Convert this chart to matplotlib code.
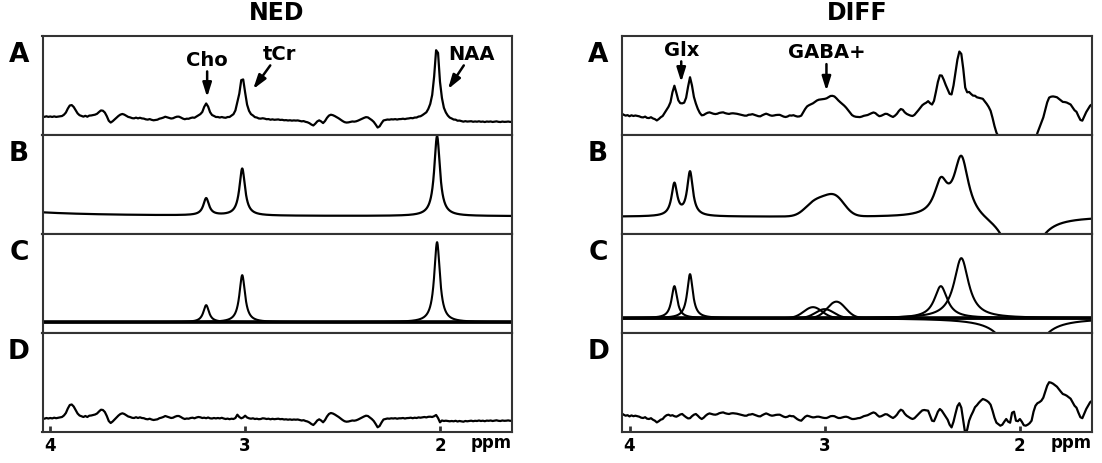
import numpy as np
import matplotlib
matplotlib.use("Agg")
import matplotlib.pyplot as plt

# measured spectra are sampled every 0.01 ppm from 4.04 down to 1.63
ppm = np.linspace(4.04, 1.63, 242)
ppm_fine = np.linspace(4.04, 1.63, 2400)

# NED fit: Cho, tCr, NAA  (centre ppm, height, fwhm ppm, lineshape)
ned_centres = [3.20, 3.015, 2.015]
ned_heights = [17, 47, 80]
ned_fwhm = [0.035, 0.035, 0.035]
ned_shapes = ["L", "L", "L"]
# water tail that lifts the NED fit baseline at the left edge
ned_water = (4.68, 30, 0.5, "L")

# DIFF fit: Glx x2, GABA+ x3, 2.4 / 2.3 ppm, negative NAA
diff_centres = [3.77, 3.69, 3.06, 3.00, 2.94, 2.405, 2.30, 1.99]
diff_heights = [32, 44, 11, 9, 16.5, 32, 60, -90]
diff_fwhm = [0.035, 0.035, 0.11, 0.11, 0.11, 0.08, 0.09, 0.12]
diff_shapes = ["L", "L", "G", "G", "G", "L", "L", "L"]

# residuals (data - fit), one row per 0.1 ppm
ned_resid = [
    0.7, 0.3, 1.0, 0.5, 1.0, 0.6, 1.3, 0.8, 1.2, 1.6,
    2.0, 3.5, 6.0, 10.5, 14.0, 14.5, 12.5, 9.0, 5.5, 3.5,
    2.8, 2.0, 3.0, 2.0, 3.3, 3.5, 4.0, 4.5, 5.5, 7.5,
    9.3, 9.0, 7.0, 3.0, -2.0, -4.0, -2.5, -0.5, 1.5, 3.5,
    5.0, 5.7, 5.0, 3.8, 2.5, 2.0, 1.2, 1.0, 1.8, 1.0,
    1.7, 1.0, 0.8, 0.0, -0.3, 0.3, -0.5, -1.0, -0.6, -0.3,
    0.8, 1.3, 2.0, 3.0, 2.3, 1.5, 1.0, 1.3, 2.3, 3.0,
    3.0, 2.0, 0.8, 0.0, 0.5, 0.3, 1.0, 1.3, 0.7, 1.5,
    2.0, 1.7, 1.0, 1.3, 0.8, 1.5, 0.7, 0.5, 1.0, 0.6,
    1.0, 0.6, 1.2, 0.5, 0.0, 0.4, -0.2, 0.3, 0.0, 1.0,
    4.3, 2.0, 0.7, 1.5, 3.3, 1.5, 0.7, 0.3, 0.7, 0.0,
    0.3, -0.2, 0.0, 0.7, 0.5, 0.0, 0.3, -0.3, 0.2, -0.2,
    0.0, 0.3, -0.2, 0.0, -0.5, -0.3, -0.7, -0.4, -0.8, -0.5,
    -0.7, -0.5, -1.0, -1.5, -1.2, -2.0, -2.5, -3.5, -5.0, -6.0,
    -4.0, -1.5, -0.3, -1.5, -3.3, -1.0, 2.5, 5.0, 6.0, 5.5,
    4.5, 3.3, 2.0, 0.5, -1.0, -2.2, -2.7, -2.5, -2.0, -1.5,
    -1.7, -1.3, -0.5, 0.5, 1.5, 2.5, 3.3, 3.0, 1.5, 0.0,
    -2.0, -5.0, -8.3, -7.0, -3.5, -0.5, 0.0, 0.5, 0.3, 0.7,
    0.5, 0.8, 0.3, 0.7, 0.7, 1.0, 0.5, 0.9, 1.0, 1.3,
    0.8, 1.3, 1.0, 1.6, 1.3, 1.7, 2.0, 1.6, 2.2, 2.3,
    2.0, 2.8, 4.0, 1.0, -3.3, -1.5, -2.0, -1.7, -2.0, -2.3,
    -2.0, -2.3, -1.8, -2.5, -2.0, -2.3, -2.7, -2.0, -2.3, -2.0,
    -1.7, -2.2, -1.8, -2.0, -1.5, -2.0, -1.7, -2.2, -1.6, -1.8,
    -1.5, -2.0, -1.7, -1.3, -1.8, -2.0, -1.5, -1.8, -1.7, -1.4,
    -1.8, -1.7,
]
diff_resid = [
    2.3, 1.0, 0.0, 0.5, -0.7, 0.3, -0.5, 0.0, -0.5, -1.0,
    -2.0, -2.3, -1.5, -3.0, -3.3, -2.5, -4.0, -5.0, -6.7, -5.5,
    -4.0, -3.3, -1.0, 0.5, 1.0, 0.0, 0.5, -0.5, -1.0, 0.0,
    1.2, 1.7, 0.0, -1.5, -2.7, -2.5, -0.5, 1.0, 1.7, 0.0,
    -2.0, -3.3, -2.0, 0.0, 1.5, 2.3, 1.8, 1.2, 1.0, 1.5,
    2.5, 3.0, 3.3, 2.5, 2.0, 1.7, 2.3, 2.5, 2.3, 2.0,
    1.5, 1.0, 0.5, 0.0, 0.0, 1.0, 1.2, 1.7, 1.0, 0.3,
    -0.5, -0.7, 0.5, 1.5, 2.3, 1.5, 0.5, 0.0, 0.3, 0.8,
    1.0, 1.0, 0.0, -1.0, -1.5, -1.0, 0.0, -0.5, -0.5, -2.0,
    -3.5, -4.5, -5.0, -3.0, -1.0, 0.0, -0.5, -1.2, -1.7, -1.5,
    -1.0, -1.0, -1.5, -2.0, -2.3, -2.3, -1.5, -0.5, -0.3, -0.5,
    -1.5, -2.3, -2.3, -1.8, -1.2, -1.0, -1.5, -2.5, -3.3, -3.3,
    -3.0, -2.5, -2.3, -1.5, -0.5, 0.0, 0.5, 1.5, 2.5, 3.3,
    2.5, 0.5, -1.0, -0.5, 0.5, 1.5, 1.3, 0.0, -1.3, -2.3,
    -1.0, 1.0, 4.0, 6.0, 5.0, 2.0, 0.0, -1.3, -2.5, -3.3,
    -2.5, -0.5, 1.5, 3.5, 5.3, 5.7, 5.3, 5.0, 0.0, -5.0,
    -5.5, -1.0, 4.0, 6.7, 5.0, 2.0, -1.0, -4.0, -9.0, -11.7,
    -6.0, 2.0, 9.5, 12.5, 8.0, -5.0, -18.0, -14.0, -5.0, 0.0,
    4.0, 8.5, 10.5, 13.0, 15.0, 16.7, 16.0, 15.0, 13.5, 11.0,
    5.0, -2.0, -7.0, -8.5, -10.0, -9.0, -6.0, -3.3, -6.0, -7.0,
    3.0, 4.0, -5.0, -5.5, -3.3, -6.0, -9.5, -10.0, -9.0, -7.5,
    -5.0, 4.0, 10.0, 12.5, 13.5, 15.0, 18.0, 24.0, 30.0, 33.5,
    33.0, 32.0, 30.5, 29.0, 26.5, 24.0, 21.7, 21.0, 20.0, 18.5,
    17.0, 13.5, 10.0, 8.0, 3.0, -1.5, -2.5, 2.0, 6.7, 10.0,
    13.5, 15.0,
]

panel_letters = ["A", "B", "C", "D"]
tick_ppm = [4, 3, 2]
tick_labels = ["4", "3", "2"]

FRAME = "#333333"
PANEL_PX = 99.15
# y range of each panel: lower limit and pixels per unit
NED_YLO = [-15.8, -17.7, -11.0, -13.3]
DIFF_YLO = [-21.1, -17.4, -15.0, -16.6]
PX_PER_UNIT = [0.9, 1.0, 1.0, 1.0]


def peak(x, centre, height, fwhm, shape):
    if shape == "G":
        return height * np.exp(-4 * np.log(2) * (x - centre) ** 2 / fwhm ** 2)
    hw = fwhm / 2
    return height * hw ** 2 / ((x - centre) ** 2 + hw ** 2)


def make_column(fig, left, width, ylos):
    bottom, top = 1 - 433.3 / 464, 1 - 36.7 / 464
    h = (top - bottom) / 4
    axes = []
    for i in range(4):
        ax = fig.add_axes([left, top - (i + 1) * h, width, h])
        ax.set_xlim(4.04, 1.632)
        ax.set_ylim(ylos[i], ylos[i] + PANEL_PX / PX_PER_UNIT[i])
        for sp in ax.spines.values():
            sp.set_color(FRAME)
            sp.set_linewidth(1.5)
        ax.set_yticks([])
        if i < 3:
            ax.set_xticks([])
        else:
            ax.set_xticks(tick_ppm)
            ax.set_xticklabels(tick_labels, fontweight="bold")
            ax.tick_params(axis="x", direction="in", length=4.5, width=2,
                           color=FRAME, labelsize=12, pad=3)
            ax.text(1.0, -0.148, "ppm", transform=ax.transAxes, ha="right",
                    va="baseline", fontsize=12, fontweight="bold")
        fig.text(left - 0.0214, top - i * h - 18 / 464, panel_letters[i],
                 ha="center", va="center", fontsize=19, fontweight="bold")
        axes.append(ax)
    return axes


def draw_column(axes, centres, heights, fwhm, shapes, resid, extra=None):
    params = list(zip(centres, heights, fwhm, shapes))
    comps = [peak(ppm_fine, *p) for p in params]
    fit_fine = np.sum(comps, axis=0)
    fit_grid = np.sum([peak(ppm, *p) for p in params], axis=0)
    if extra is not None:
        fit_fine = fit_fine + peak(ppm_fine, *extra)
        fit_grid = fit_grid + peak(ppm, *extra)
    resid = np.array(resid)

    axes[0].plot(ppm, fit_grid + resid, color="k", lw=1.6)
    axes[1].plot(ppm_fine, fit_fine, color="k", lw=1.6)
    axes[2].axhline(0, color="k", lw=2.6)
    for c in comps:
        axes[2].plot(ppm_fine, c, color="k", lw=1.5)
    axes[3].plot(ppm, resid, color="k", lw=1.6)


def label(ax, text, xy, offset):
    ax.annotate(text, xy=xy, xytext=offset, textcoords="offset pixels",
                ha="center", va="center", fontsize=14, fontweight="bold",
                arrowprops=dict(arrowstyle="-|>,head_length=0.7,head_width=0.22",
                                color="k", lw=1.8, mutation_scale=12,
                                shrinkA=0, shrinkB=0))


fig = plt.figure(figsize=(11.02, 4.64), dpi=100)

ned_axes = make_column(fig, 42.5 / 1102, 469.2 / 1102, NED_YLO)
diff_axes = make_column(fig, 621.7 / 1102, 470.0 / 1102, DIFF_YLO)

draw_column(ned_axes, ned_centres, ned_heights, ned_fwhm, ned_shapes,
            ned_resid, extra=ned_water)
draw_column(diff_axes, diff_centres, diff_heights, diff_fwhm, diff_shapes,
            diff_resid)

label(ned_axes[0], "Cho", (3.195, 26.1), (0, 38))
label(ned_axes[0], "tCr", (2.959, 35.0), (26, 36))
label(ned_axes[0], "NAA", (1.959, 35.0), (24, 36))
label(diff_axes[0], "Glx", (3.735, 37.5), (0, 33))
label(diff_axes[0], "GABA+", (2.991, 27.8), (0, 39))

fig.text(277 / 1102, 1 - 13.5 / 464, "NED", ha="center", va="center",
         fontsize=17, fontweight="bold")
fig.text(856.7 / 1102, 1 - 13.5 / 464, "DIFF", ha="center", va="center",
         fontsize=17, fontweight="bold")

fig.savefig("out.png", dpi=100)
